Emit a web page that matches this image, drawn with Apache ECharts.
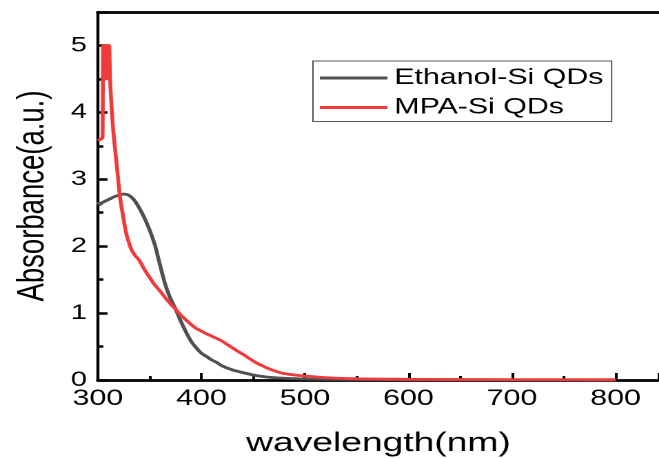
<!DOCTYPE html>
<html><head><meta charset="utf-8">
<script src="https://cdn.jsdelivr.net/npm/echarts@6/dist/echarts.min.js"></script>
<style>
html,body{margin:0;padding:0;background:#fff;overflow:hidden}
#wrap{width:659px;height:459px;overflow:hidden}
#c{width:478px;height:459px;transform:scaleX(1.3787);transform-origin:0 0}
</style>
</head><body><div id="wrap"><div id="c"></div></div>
<script>
const seriesNames = ['Ethanol-Si QDs', 'MPA-Si QDs'];
const ethanolWl = [300,302,304,308,312,316,320,325,330,335,340,345,350,355,360,365,370,375,380,385,390,395,400,405,410,415,420,430,440,450,460,470,480,500,550,600,700,800];
const ethanolAbs = [2.66,2.62,2.65,2.68,2.71,2.74,2.76,2.78,2.76,2.69,2.57,2.42,2.24,2.02,1.72,1.43,1.22,1.06,0.88,0.72,0.58,0.48,0.40,0.35,0.30,0.26,0.21,0.15,0.11,0.075,0.05,0.035,0.025,0.015,0.007,0.004,0.002,0.0];
const mpaWl = [300,303,304.5,305,306,307,308,309,310,311,311.5,312.6,314.8,318.1,321.3,326.1,328,330,332.6,336,340,345,350,355,360,365,370,375,380,385,390,395,400,405,410,415,420,425,430,435,440,445,450,455,460,465,470,475,480,490,500,520,550,600,700,800];
const mpaAbs = [3.58,3.60,3.62,5.0,4.5,5.0,4.5,5.0,4.5,5.0,4.6,4.23,3.73,3.23,2.74,2.29,2.15,2.05,1.94,1.86,1.79,1.65,1.53,1.42,1.33,1.23,1.14,1.06,0.97,0.90,0.83,0.77,0.73,0.69,0.655,0.62,0.58,0.53,0.48,0.43,0.385,0.335,0.285,0.24,0.205,0.17,0.14,0.115,0.095,0.075,0.06,0.035,0.018,0.01,0.006,0.005];
const colors = ['#505050', '#EF3B3B'];

const pair = (xs, ys) => xs.map((x, i) => [x, ys[i]]);
const chart = echarts.init(document.getElementById('c'), null, {renderer: 'canvas', devicePixelRatio: 2});
const font = 'Liberation Sans, Arial, sans-serif';
chart.setOption({
  animation: false,
  grid: {left: 71, top: 12, right: 0, bottom: 79, containLabel: false, outerBoundsMode: 'none'},
  legend: {
    orient: 'vertical', left: 227, top: 61,
    padding: [5, 6, 2, 5], itemGap: 5.5,
    itemWidth: 49, itemHeight: 3,
    borderColor: '#555', borderWidth: 1,
    textStyle: {fontFamily: font, fontSize: 22, lineHeight: 24, color: '#000'},
    data: seriesNames.map(n => ({name: n, icon: 'rect'}))
  },
  xAxis: [{
    type: 'value', min: 300, max: 842, interval: 100,
    name: 'wavelength(nm)', nameLocation: 'middle', nameGap: 50,
    nameTextStyle: {fontFamily: font, fontSize: 27, color: '#000'},
    axisLine: {show: true, lineStyle: {color: '#000', width: 2.8}},
    axisTick: {show: true, inside: true, length: 7, lineStyle: {color: '#000', width: 2}},
    minorTick: {show: true, splitNumber: 2, length: 4, lineStyle: {color: '#000', width: 2}},
    axisLabel: {fontFamily: font, fontSize: 22, color: '#000', margin: 8,
      formatter: v => (v % 100 === 0 && v <= 800) ? String(v) : ''},
    splitLine: {show: false}
  }, {
    type: 'value', position: 'top', min: 300, max: 842,
    axisLine: {show: true, lineStyle: {color: '#000', width: 2.8}},
    axisTick: {show: false}, axisLabel: {show: false}, splitLine: {show: false}
  }],
  yAxis: {
    type: 'value', min: 0, max: 5.5, interval: 1,
    name: 'Absorbance(a.u.)', nameLocation: 'middle', nameGap: 33,
    nameTextStyle: {fontFamily: font, fontSize: 27.5, color: '#000'},
    axisLine: {show: true, lineStyle: {color: '#000', width: 2.2}},
    axisTick: {show: true, inside: true, length: 7, lineStyle: {color: '#000', width: 2.5}},
    minorTick: {show: true, splitNumber: 2, length: 4, lineStyle: {color: '#000', width: 2.5}},
    axisLabel: {fontFamily: font, fontSize: 21, color: '#000', margin: 8,
      formatter: v => (Number.isInteger(v) ? String(v) : '')},
    splitLine: {show: false}
  },
  series: [
    {name: seriesNames[0], type: 'line', data: pair(ethanolWl, ethanolAbs), smooth: 0.2, showSymbol: false,
      lineStyle: {color: colors[0], width: 2.8}, itemStyle: {color: colors[0]}},
    {name: seriesNames[1], type: 'line', data: pair(mpaWl, mpaAbs), smooth: 0.15, showSymbol: false,
      lineStyle: {color: colors[1], width: 2.8}, itemStyle: {color: colors[1]}}
  ]
});
</script></body></html>
